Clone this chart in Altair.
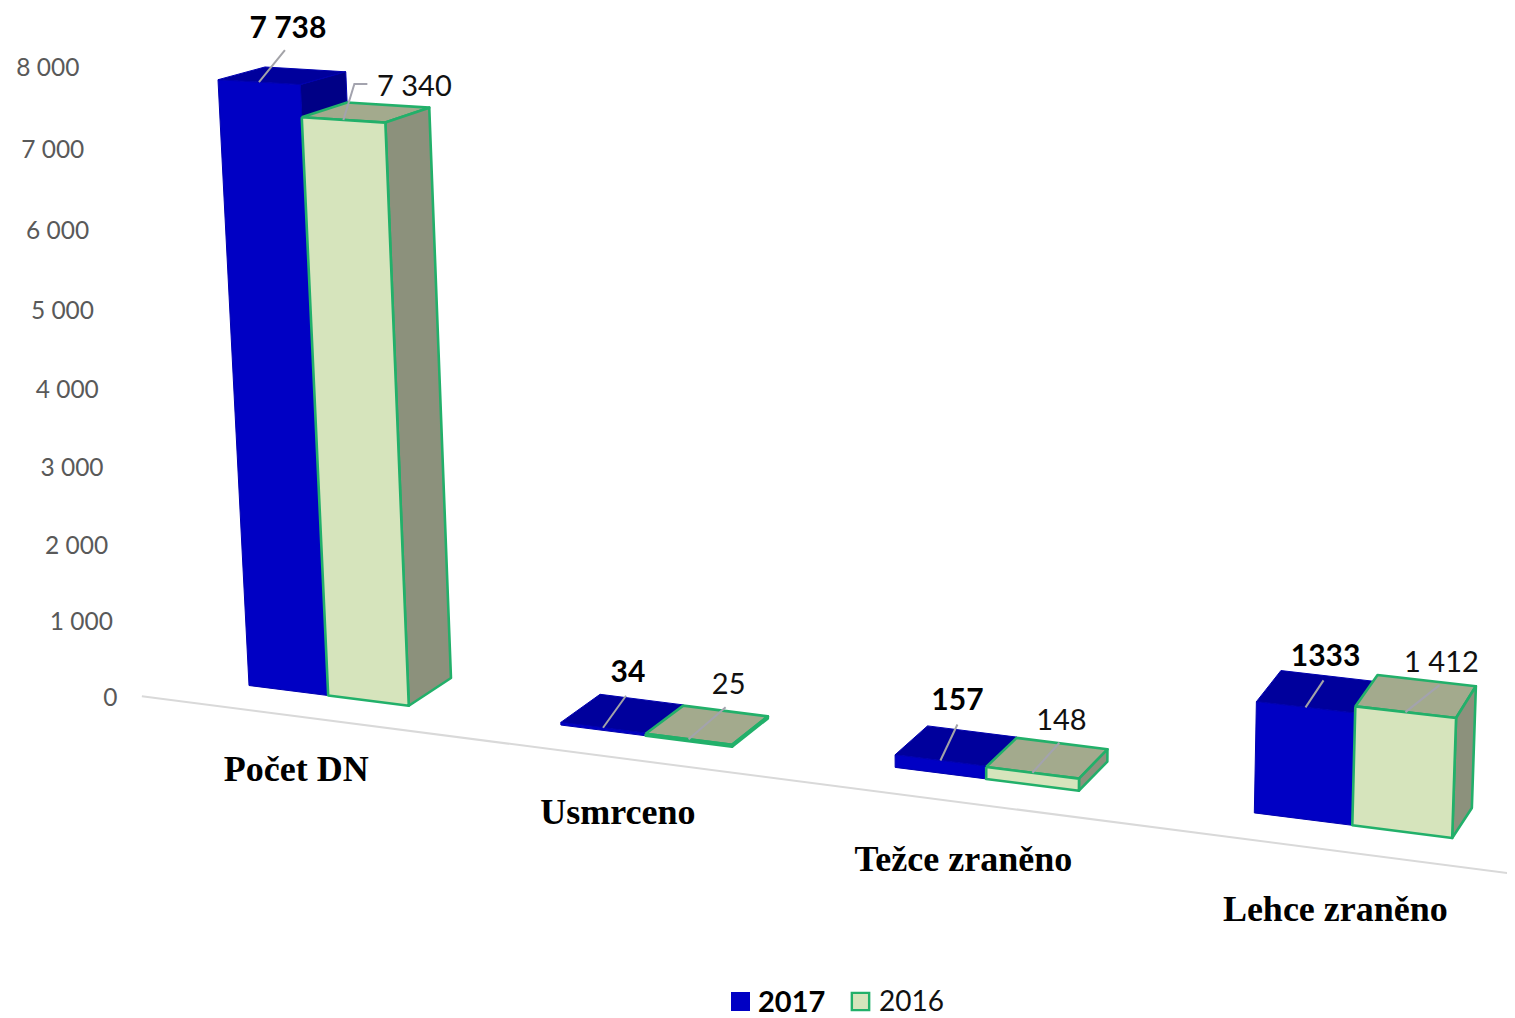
import altair as alt
import pandas as pd

categories = ["Počet DN", "Usmrceno", "Težce zraněno", "Lehce zraněno"]
values_2017 = [7738, 34, 157, 1333]
values_2016 = [7340, 25, 148, 1412]
labels_2017 = ["7 738", "34", "157", "1333"]
labels_2016 = ["7 340", "25", "148", "1 412"]
tick_values = [0, 1000, 2000, 3000, 4000, 5000, 6000, 7000, 8000]
tick_labels = ["0", "1 000", "2 000", "3 000", "4 000", "5 000", "6 000", "7 000", "8 000"]

# Perspective camera: bar-width units (u) and data values (v) to the page
FRONT = dict(a=76.33, b=-0.00514, x0=249.0, d=3.97, e=-0.0787, y0=685.5, cu=-0.00872, cv=-5.2e-6, cvy=-5.2e-6)
BACK = dict(a=74.6, b=-0.00514, x0=294.1, d=4.23, e=-0.07638, y0=658.0, cu=-0.0085, cv=-5.2e-6, cvy=0.0)
STEP = 3.84


def project(u, v, cam=FRONT):
    wx = 1 + cam["cu"] * u + cam["cv"] * v
    wy = 1 + cam["cu"] * u + cam["cvy"] * v
    return ((cam["a"] * u + cam["b"] * v + cam["x0"]) / wx,
            (cam["d"] * u + cam["e"] * v + cam["y0"]) / wy)


X = alt.X("x:Q", scale=alt.Scale(domain=[8, 1507], nice=False, zero=False), axis=None)
Y = alt.Y("y:Q", scale=alt.Scale(domain=[1018, 8], nice=False, zero=False), axis=None)


def path(points, **mark):
    df = pd.DataFrame({"x": [p[0] for p in points], "y": [p[1] for p in points],
                       "i": list(range(len(points)))})
    return alt.Chart(df).mark_line(interpolate="linear", **mark).encode(x=X, y=Y, order="i:Q")


def text(items, **mark):
    df = pd.DataFrame(items, columns=["x", "y", "t"])
    return alt.Chart(df).mark_text(**mark).encode(x=X, y=Y, text="t:N")


def bar(u0, value, front, top, side, stroke, width):
    fl, fr = u0, u0 + 1
    def face(pts, fill):
        pts = pts + [pts[0]]
        return path(pts, fill=fill, stroke=stroke, strokeWidth=width, strokeJoin="round")
    return [
        face([project(fl, value), project(fr, value), project(fr, value, BACK), project(fl, value, BACK)], top),
        face([project(fr, value), project(fr, 0), project(fr, 0, BACK), project(fr, value, BACK)], side),
        face([project(fl, value), project(fr, value), project(fr, 0), project(fl, 0)], front),
    ]


layers = []

# floor line
layers.append(path([project(-1.4, -330), project(14.14, -330)], stroke="#D9D9D9", strokeWidth=2))

# bars
for i in range(len(categories)):
    u = i * STEP
    layers += bar(u, values_2017[i], "#0000C4", "#00009C", "#000086", "#0000B0", 1)
    layers += bar(u + 1, values_2016[i], "#D6E4BC", "#A3AA8D", "#8C917C", "#22B06A", 2.6)

# value axis labels lying along the slanted axis
tick_items = []
for v, t in zip(tick_values, tick_labels):
    px, py = project(-1.725, v * 1.023 - 415)
    tick_items.append((px, py, t))
layers.append(text(tick_items, align="right", baseline="middle", font="Lato", fontSize=24.5, color="#595959"))

# leader lines and value labels
lead_2017 = [(26, -32, 3, -21), (23, -32, 2, -23), (17, -36, 0, -23), (18, -27, 2, -23)]
lead_2016 = [(24, -36, 47, 3), (37, -32, 3, -22), (27, -30, 2, -22), (34, -27, 2, -22)]
bold_items, plain_items = [], []
for i in range(len(categories)):
    u = i * STEP
    bx, by = project(u + 0.5, values_2017[i])
    dx, dy, tx, ty = lead_2017[i]
    layers.append(path([(bx, by), (bx + dx, by + dy)], stroke="#A3A3A8", strokeWidth=2))
    bold_items.append((bx + dx + tx, by + dy + ty, labels_2017[i]))

    bx, by = project(u + 1.5, values_2016[i])
    dx, dy, tx, ty = lead_2016[i]
    pts = [(bx, by), (bx + dx, by + dy)]
    if i == 0:
        pts = [(bx, by), (bx + 11, by + dy), (bx + dx, by + dy)]
    layers.append(path(pts, stroke="#A3A3AE", strokeWidth=2))
    plain_items.append((bx + dx + tx, by + dy + ty, labels_2016[i]))

layers.append(text(bold_items, align="center", baseline="middle", font="Lato", fontWeight="bold", fontSize=30, color="#000000"))
layers.append(text(plain_items, align="center", baseline="middle", font="Lato", fontSize=29, color="#111111"))

# category labels
cat_items = []
for i, c in enumerate(categories):
    px, py = project(0.55 + 3.94 * i, -1050)
    cat_items.append((px, py, c))
layers.append(text(cat_items, align="center", baseline="middle", font="Liberation Serif", fontWeight="bold", fontSize=36, color="#000000"))

# legend
layers.append(alt.Chart(pd.DataFrame({"x": [740.5], "y": [1001.5]})).mark_square(size=361, color="#0000C4", opacity=1).encode(x=X, y=Y))
layers.append(alt.Chart(pd.DataFrame({"x": [860.5], "y": [1001.5]})).mark_square(size=300, fill="#D6E4BC", stroke="#22B06A", strokeWidth=2.4, opacity=1).encode(x=X, y=Y))
layers.append(text([(758, 1002.5, "2017")], align="left", baseline="middle", font="Lato", fontWeight="bold", fontSize=29, color="#000000"))
layers.append(text([(879, 1003, "2016")], align="left", baseline="middle", font="Lato", fontSize=28, color="#111111"))

chart = alt.layer(*layers).properties(
    width=1499, height=1010, padding=0, background="#FFFFFF",
    autosize=alt.AutoSizeParams(type="none"),
).configure_view(stroke=None)

chart.save("out.html", embed_options={"renderer": "svg", "actions": False})
